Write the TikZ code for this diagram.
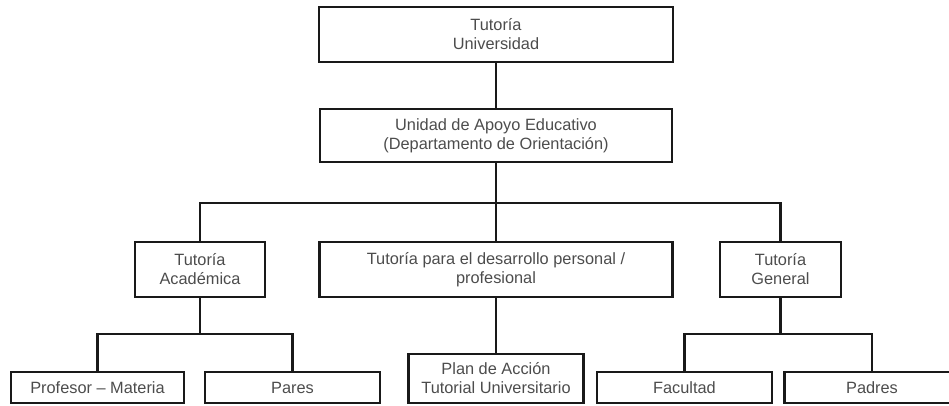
\documentclass[tikz,border=0pt]{standalone}
\usepackage{fontspec}
\setmainfont{Liberation Sans}
\definecolor{txtgray}{gray}{0.3}
\begin{document}
\begin{tikzpicture}[
    box/.style={draw=black!90, line width=1.2pt, inner sep=0pt, align=center,
                text=txtgray, font=\fontsize{9.3}{10.8}\selectfont},
    link/.style={draw=black!90, line width=1.2pt}
  ]
                        \useasboundingbox (0,0) rectangle (18.980000,8.120000);

                        % Top levels
                        \node [box, minimum width=7.080000cm, minimum height=1.100000cm] (uni) at (9.920000,7.430000) {Tutoría\\Universidad};%
                        \node [box, minimum width=7.040000cm, minimum height=1.060000cm] (unidad) at (9.920000,5.410000) {Unidad de Apoyo Educativo\\(Departamento de Orientación)};%

                        % Middle level
                        \node [box, minimum width=2.600000cm, minimum height=1.100000cm] (acad) at (4.000000,2.730000) {Tutoría\\Académica};%
                        \node [box, minimum width=7.060000cm, minimum height=1.100000cm] (pers) at (9.920000,2.730000) {Tutoría para el desarrollo personal /\\profesional};%
                        \node [box, minimum width=2.420000cm, minimum height=1.100000cm] (gen) at (15.610000,2.730000) {Tutoría\\General};%

                        % Bottom level
                        \node [box, minimum width=3.460000cm, minimum height=0.620000cm] (prof) at (1.950000,0.370000) {Profesor -- Materia};%
                        \node [box, minimum width=3.500000cm, minimum height=0.620000cm] (pares) at (5.850000,0.370000) {Pares};%
                        \node [box, minimum width=3.500000cm, minimum height=0.980000cm] (plan) at (9.920000,0.550000) {Plan de Acción\\Tutorial Universitario};%
                        \node [box, minimum width=3.500000cm, minimum height=0.620000cm] (facultad) at (13.690000,0.370000) {Facultad};%
                        \node [box, minimum width=3.500000cm, minimum height=0.620000cm] (padres) at (17.440000,0.370000) {Padres};%

                        % Bus points
                        \coordinate (busA) at (9.920000,4.060000);%
                        \coordinate (busB) at (4.000000,1.440000);%
                        \coordinate (busC) at (15.610000,1.440000);%

                        % Drawing links
                        \draw [link] (uni.south) -- (unidad.north);%
                        \draw [link] (unidad.south) -- (pers.north);%
                        \draw [link] (acad.north) |- (busA) -| (gen.north);%
                        \draw [link] (acad.south) -- (busB);%
                        \draw [link] (prof.north) |- (busB) -| (pares.north);%
                        \draw [link] (pers.south) -- (plan.north);%
                        \draw [link] (gen.south) -- (busC);%
                        \draw [link] (facultad.north) |- (busC) -| (padres.north);%
\end{tikzpicture}
\end{document}
